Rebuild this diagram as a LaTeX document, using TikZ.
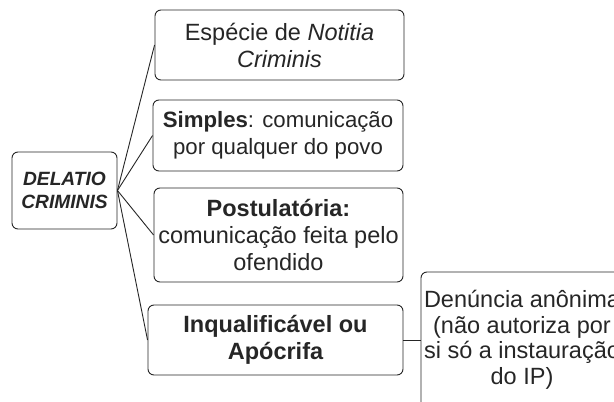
\documentclass[tikz,border=0pt]{standalone}
\usepackage{fontspec}
\setmainfont{Liberation Sans}
\begin{document}
\begin{tikzpicture}[x=1pt,y=-1pt,
  box/.style={draw=black!85,line width=0.9pt,rounded corners=6pt,align=center,inner sep=0pt,text=black!85},
  big/.style={font=\fontsize{23.5}{27}\selectfont},
  conn/.style={draw=black!85,line width=0.9pt}]
\clip (0,0) rectangle (614,402);
\fill[white] (0,0) rectangle (614,402);
\node[box,font=\fontsize{19.2}{22.5}\selectfont\bfseries\itshape,minimum width=105pt,minimum height=77pt] (d) at (64.5,190.5) {DELATIO\\CRIMINIS};
\node[box,big,minimum width=249pt,minimum height=70pt] (b1) at (279.5,45) {Espécie de \textit{Notitia}\\\textit{Criminis}};
\node[box,font=\fontsize{22.2}{27}\selectfont,minimum width=250pt,minimum height=71pt] (b2) at (278,135.5) {\textbf{Simples}: comunicação\\por qualquer do povo};
\node[box,big,minimum width=249pt,minimum height=94pt] (b3) at (278.5,235) {\textbf{Postulatória:}\\comunicação feita pelo\\ofendido};
\node[box,font=\fontsize{23.5}{27}\selectfont\bfseries,minimum width=255pt,minimum height=70pt] (b4) at (275.5,340) {Inqualificável ou\\Apócrifa};
\node[box,font=\fontsize{23.5}{25.5}\selectfont,minimum width=202pt,minimum height=136pt] (r) at (522,340) {Denúncia anônima\\(não autoriza por\\si só a instauração\\do IP)};
\draw[conn] (d.east) -- (b1.west);
\draw[conn] (d.east) -- (b2.west);
\draw[conn] (d.east) -- (b3.west);
\draw[conn] (d.east) -- (b4.west);
\draw[conn] (b4.east) -- (r.west);
\end{tikzpicture}
\end{document}
